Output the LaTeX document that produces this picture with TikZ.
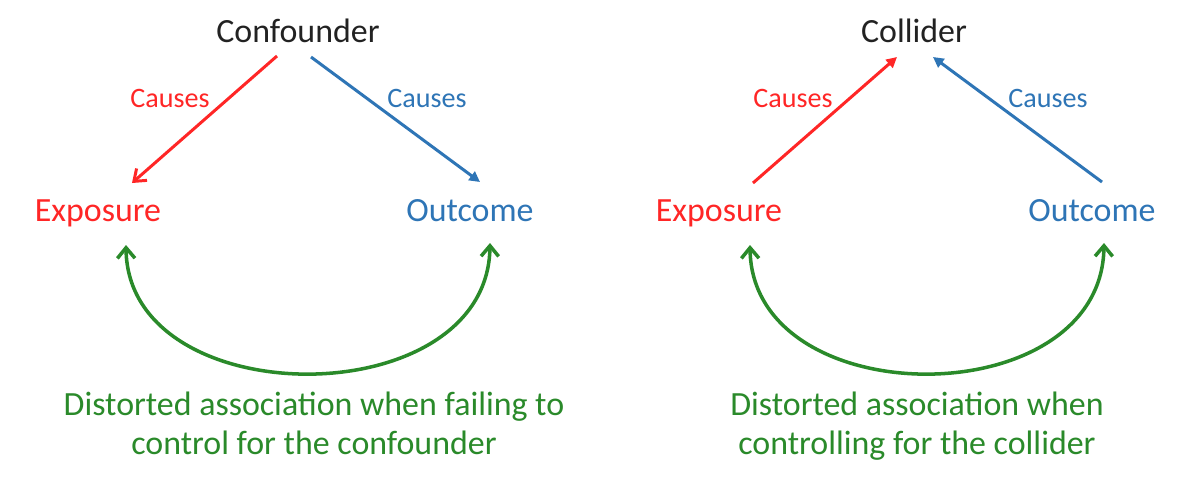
\documentclass[tikz,border=0pt]{standalone}
\usepackage{fontspec}
\setmainfont{Carlito}
\usetikzlibrary{arrows.meta,calc}
\definecolor{cred}{HTML}{FF2626}
\definecolor{cblue}{HTML}{2E75B6}
\definecolor{cgreen}{HTML}{2A8A2A}
\definecolor{cblack}{HTML}{222222}
\begin{document}
\begin{tikzpicture}[x=0.02cm,y=-0.02cm,
  lbl/.style={font=\fontsize{19.3pt}{21.6pt}\selectfont, inner sep=0pt, anchor=base},
  causelbl/.style={font=\fontsize{16pt}{18pt}\selectfont, inner sep=0pt, anchor=base},
  gtext/.style={font=\fontsize{19.3pt}{21.8pt}\selectfont, inner sep=0pt, anchor=base, align=center, text=cgreen},
  openarr/.style={-{Straight Barb[length=6pt,width=9pt]}},
  triarr/.style={-{Triangle[length=6pt,width=6pt]}},
  conn/.style={line width=1.7pt},
  assoc/.style={line width=2pt, draw=cgreen, {Straight Barb[length=6pt,width=10pt]}-{Straight Barb[length=6pt,width=10pt]}}
]
\useasboundingbox (0,0) rectangle (1194,488);
\fill[white] (0,0) rectangle (1194,488);

% Left panel
\node[lbl,text=cblack] (conf) at (298,42) {Confounder};
\node[lbl,text=cred] (expL) at (98,221) {Exposure};
\node[lbl,text=cblue] (outL) at (470,221) {Outcome};
\node[causelbl,text=cred] (cauLr) at (170,107) {Causes};
\node[causelbl,text=cblue] (cauLb) at (427,107) {Causes};
\draw[conn,draw=cred,openarr] ($(conf.base)+(-21,14)$) -- ($(expL.base)+(34,-38)$);
\draw[conn,draw=cblue,fill=cblue,triarr] ($(conf.base)+(13,15)$) -- ($(outL.base)+(10,-39)$);
\draw[assoc] ($(expL.base)+(28,24)$) .. controls ($(expL.base)+(30,195)$) and ($(outL.base)+(18,195)$) .. ($(outL.base)+(20,22)$);
\node[gtext] (txtL) at (314,454) {Distorted association when failing to\\control for the confounder};

% Right panel
\node[lbl,text=cblack] (coll) at (914,42) {Collider};
\node[lbl,text=cred] (expR) at (719,221) {Exposure};
\node[lbl,text=cblue] (outR) at (1092,221) {Outcome};
\node[causelbl,text=cred] (cauRr) at (793,107) {Causes};
\node[causelbl,text=cblue] (cauRb) at (1048,107) {Causes};
\draw[conn,draw=cred,fill=cred,triarr] ($(expR.base)+(34,-38)$) -- ($(coll.base)+(-17,15)$);
\draw[conn,draw=cblue,fill=cblue,triarr] ($(outR.base)+(10,-39)$) -- ($(coll.base)+(19,15)$);
\draw[assoc] ($(expR.base)+(31,24)$) .. controls ($(expR.base)+(33,195)$) and ($(outR.base)+(10,195)$) .. ($(outR.base)+(12,22)$);
\node[gtext] (txtR) at (917,454) {Distorted association when\\controlling for the collider};
\end{tikzpicture}
\end{document}
